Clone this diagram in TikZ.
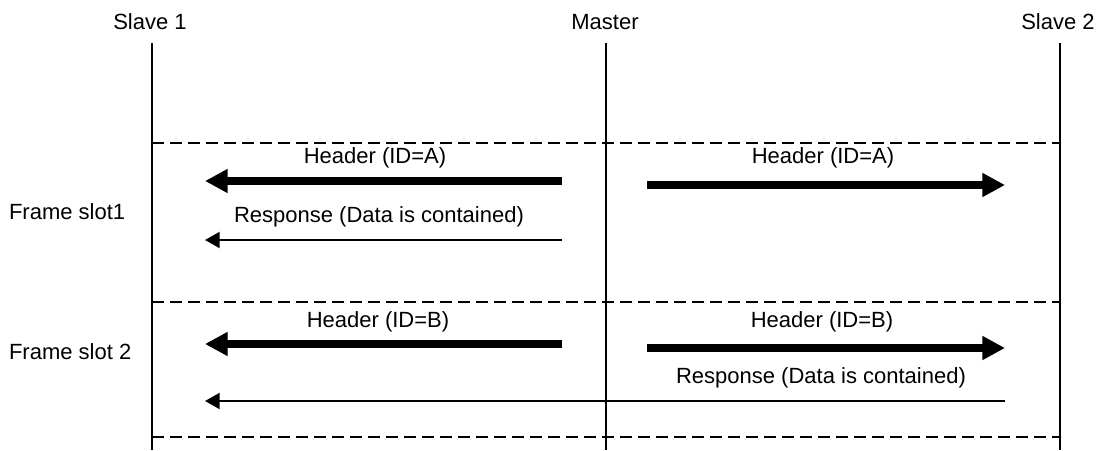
\documentclass[tikz,border=0pt]{standalone}
\usepackage{fontspec}
\setmainfont{Liberation Sans}
\usetikzlibrary{arrows.meta}

\begin{document}
\begin{tikzpicture}[x=0.75pt, y=-0.75pt, line width=1.5pt,
    every node/.style={font=\fontsize{16.5}{19}\selectfont, inner sep=0pt},
    lifeline/.style={line width=1.5pt},
    slotline/.style={line width=1.5pt, dash pattern=on 9pt off 4.5pt},
    header/.style={line width=6pt, -{Triangle[length=17pt,width=17pt]}},
    response/.style={line width=1.5pt, -{Triangle[length=11pt,width=12pt]}}]
  \useasboundingbox (0,0) rectangle (1103,450);

  % lifelines
  \node (s1) at (150,22) {Slave 1};
  \node (ma) at (605,22) {Master};
  \node (s2) at (1058,22) {Slave 2};
  \foreach \n/\x in {s1/152, ma/606, s2/1060} {
    \coordinate (\n top) at (\x,43);
    \coordinate (\n bot) at (\x,450);
    \draw[lifeline] (\n top) -- (\n bot);
  }

  % frame slots
  \foreach \i/\y in {a/143, b/302, c/437} {
    \coordinate (d\i l) at (152,\y);
    \coordinate (d\i r) at (1060,\y);
    \draw[slotline] (d\i l) -- (d\i r);
  }
  \node[anchor=west] (f1) at (8,212) {Frame slot1};
  \node[anchor=west] (f2) at (8,352) {Frame slot 2};

  % slot 1
  \coordinate (h1ms) at (562,181);  \coordinate (h1s) at (205,181);
  \coordinate (h1mr) at (647,185);  \coordinate (h1r) at (1005,185);
  \coordinate (r1m) at (562,240);   \coordinate (r1s) at (205,240);
  \draw[header] (h1ms) -- (h1s);
  \draw[header] (h1mr) -- (h1r);
  \draw[response] (r1m) -- (r1s);
  \node (t1a) at (375,158) {Header (ID=A)};
  \node (t1b) at (823,158) {Header (ID=A)};
  \node (t1c) at (379,217) {Response (Data is contained)};

  % slot 2
  \coordinate (h2ms) at (562,344);  \coordinate (h2s) at (205,344);
  \coordinate (h2mr) at (647,348);  \coordinate (h2r) at (1005,348);
  \coordinate (r2s2) at (1005,401); \coordinate (r2s1) at (205,401);
  \draw[header] (h2ms) -- (h2s);
  \draw[header] (h2mr) -- (h2r);
  \draw[response] (r2s2) -- (r2s1);
  \node (t2a) at (378,322) {Header (ID=B)};
  \node (t2b) at (822,322) {Header (ID=B)};
  \node (t2c) at (821,378) {Response (Data is contained)};
\end{tikzpicture}
\end{document}
